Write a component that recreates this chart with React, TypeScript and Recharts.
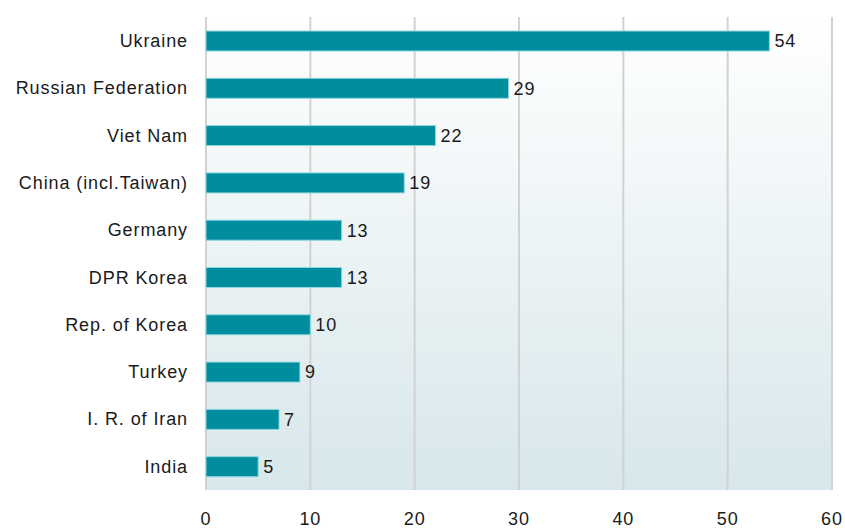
import React from 'react';
import { Bar, BarChart, CartesianGrid, LabelList, XAxis, YAxis } from 'recharts';

const countries = [
  'Ukraine',
  'Russian Federation',
  'Viet Nam',
  'China (incl.Taiwan)',
  'Germany',
  'DPR Korea',
  'Rep. of Korea',
  'Turkey',
  'I. R. of Iran',
  'India',
];
const counts = [54, 29, 22, 19, 13, 13, 10, 9, 7, 5];
const xTicks = [0, 10, 20, 30, 40, 50, 60];

const rows = countries.map((name, i) => ({ name, value: counts[i] }));

const txt = { fill: '#1a1a1a', fontSize: 18, letterSpacing: 0.9, fontFamily: 'Liberation Sans, Arial, sans-serif' };

const App = () => {
  return (
    <div style={{ position: 'absolute', left: 0, top: 0, width: 845, height: 531, background: '#fff' }}>
      <BarChart
        width={845}
        height={531}
        data={rows}
        layout="vertical"
        margin={{ top: 17, right: 13, left: 0, bottom: 4 }}
        barCategoryGap="30%"
      >
        <defs>
          <linearGradient id="bg" x1="0" y1="0" x2="0" y2="1">
            <stop offset="0%" stopColor="#ffffff" />
            <stop offset="100%" stopColor="#d7e7eb" />
          </linearGradient>
        </defs>
        <CartesianGrid horizontal={false} stroke="#d2d2d2" strokeWidth={2} fill="url(#bg)" />
        <XAxis
          type="number"
          domain={[0, 60]}
          ticks={xTicks}
          axisLine={false}
          tickLine={false}
          tickMargin={16}
          height={37}
          tick={txt}
          interval={0}
        />
        <YAxis
          type="category"
          dataKey="name"
          width={206}
          axisLine={false}
          tickLine={false}
          tickSize={0}
          tickMargin={18}
          tick={txt}
          interval={0}
        />
        <Bar dataKey="value" fill="#008e9e" stroke="#8fd6de" strokeWidth={1} barSize={20} isAnimationActive={false}>
          <LabelList dataKey="value" position="right" offset={5} style={txt} />
        </Bar>
      </BarChart>
    </div>
  );
};

export default App;
